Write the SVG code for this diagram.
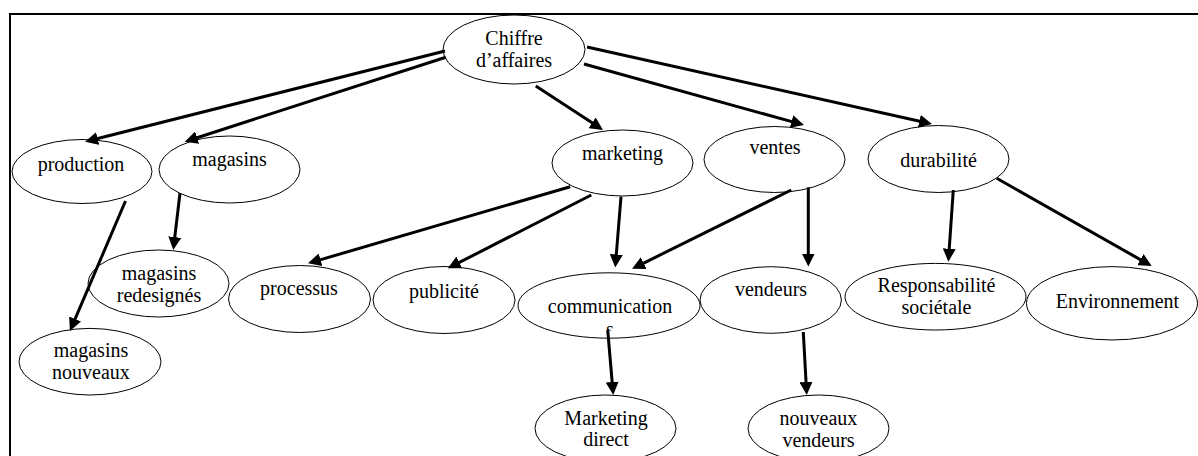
<svg xmlns="http://www.w3.org/2000/svg" width="1198" height="456" viewBox="0 0 1198 456">
<style>
  .node ellipse { fill: #ffffff; stroke: #000000; stroke-width: 1; }
  .node text { font-family: "Liberation Serif", "Times New Roman", serif; font-size: 20px; fill: #000000; text-anchor: middle; }
  .edge { stroke: #000000; stroke-width: 3; fill: none; marker-end: url(#arrow); }
  .frame { stroke: #000000; stroke-width: 2; fill: none; }
</style>
<defs>
  <marker id="arrow" markerUnits="userSpaceOnUse" markerWidth="13" markerHeight="13" refX="5" refY="6.5" orient="auto">
    <path d="M0,0 L13,6.5 L0,13 z" fill="#000000"/>
  </marker>
  <clipPath id="clipS">
    <rect x="590" y="300" width="40" height="30.5"/>
  </clipPath>
</defs>
<rect x="0" y="0" width="1198" height="456" fill="#ffffff"/>
<g id="frame">
  <line class="frame" x1="9" y1="14" x2="1198" y2="14"/>
  <line class="frame" x1="10" y1="13" x2="10" y2="456"/>
</g>
<g id="nodes">
  <g id="n-chiffre" class="node">
    <ellipse cx="514" cy="49.5" rx="71" ry="34.5"/>
    <text x="514" y="44.5">Chiffre</text>
    <text x="514" y="67">d’affaires</text>
  </g>
  <g id="n-production" class="node">
    <ellipse cx="82" cy="171.5" rx="70" ry="32"/>
    <text x="81" y="171">production</text>
  </g>
  <g id="n-magasins" class="node">
    <ellipse cx="229.5" cy="169.5" rx="70.5" ry="33.5"/>
    <text x="229.5" y="166">magasins</text>
  </g>
  <g id="n-marketing" class="node">
    <ellipse cx="622.5" cy="163" rx="70.5" ry="33"/>
    <text x="622.5" y="159.5">marketing</text>
  </g>
  <g id="n-ventes" class="node">
    <ellipse cx="774.5" cy="159.5" rx="70.5" ry="33"/>
    <text x="775" y="154">ventes</text>
  </g>
  <g id="n-durabilite" class="node">
    <ellipse cx="938.5" cy="159" rx="70.5" ry="33.5"/>
    <text x="938.5" y="166.5">durabilité</text>
  </g>
  <g id="n-redesignes" class="node">
    <ellipse cx="158.5" cy="283.5" rx="70.5" ry="33.5"/>
    <text x="159" y="279.5">magasins</text>
    <text x="159" y="301.5">redesignés</text>
  </g>
  <g id="n-processus" class="node">
    <ellipse cx="299.5" cy="299" rx="71" ry="33.5"/>
    <text x="299" y="295">processus</text>
  </g>
  <g id="n-publicite" class="node">
    <ellipse cx="444" cy="300" rx="71" ry="33.5"/>
    <text x="444" y="298">publicité</text>
  </g>
  <g id="n-communication" class="node">
    <ellipse cx="609" cy="305.5" rx="91" ry="32.7"/>
    <text x="610" y="313.3">communication</text>
    <text x="610" y="336" clip-path="url(#clipS)">s</text>
  </g>
  <g id="n-vendeurs" class="node">
    <ellipse cx="770.7" cy="300" rx="70.7" ry="33.3"/>
    <text x="771" y="296">vendeurs</text>
  </g>
  <g id="n-responsabilite" class="node">
    <ellipse cx="935.5" cy="296.7" rx="90.5" ry="33.3"/>
    <text x="936.5" y="292.3">Responsabilité</text>
    <text x="936.5" y="314.3">sociétale</text>
  </g>
  <g id="n-environnement" class="node">
    <ellipse cx="1112" cy="303.3" rx="85.5" ry="36.7"/>
    <text x="1117.5" y="308.3">Environnement</text>
  </g>
  <g id="n-nouveaux-magasins" class="node">
    <ellipse cx="90" cy="361.7" rx="71" ry="33.3"/>
    <text x="91" y="356.7">magasins</text>
    <text x="91" y="379.3">nouveaux</text>
  </g>
  <g id="n-marketing-direct" class="node">
    <ellipse cx="605.5" cy="428.5" rx="70.5" ry="33.5"/>
    <text x="606" y="425">Marketing</text>
    <text x="606" y="446">direct</text>
  </g>
  <g id="n-nouveaux-vendeurs" class="node">
    <ellipse cx="818.5" cy="428.5" rx="70.5" ry="33.5"/>
    <text x="818.5" y="425">nouveaux</text>
    <text x="818.5" y="446.7">vendeurs</text>
  </g>
</g>
<g id="connectors">
  <line class="edge" x1="445" y1="51" x2="92.8" y2="139.7"/>
  <line class="edge" x1="445.8" y1="57.3" x2="192.4" y2="139.2"/>
  <line class="edge" x1="535.8" y1="86" x2="596.3" y2="125.6"/>
  <line class="edge" x1="584" y1="64" x2="796.3" y2="122.9"/>
  <line class="edge" x1="587" y1="47" x2="924.2" y2="122.3"/>
  <line class="edge" x1="125.5" y1="201" x2="73.1" y2="323.6"/>
  <line class="edge" x1="180" y1="193" x2="174.2" y2="242.1"/>
  <line class="edge" x1="570.2" y1="186.7" x2="315.7" y2="261.1"/>
  <line class="edge" x1="591.3" y1="195" x2="454.9" y2="264.7"/>
  <line class="edge" x1="621" y1="196.7" x2="615.9" y2="259.5"/>
  <line class="edge" x1="791.2" y1="190" x2="639.2" y2="265.3"/>
  <line class="edge" x1="808.3" y1="187.3" x2="808.3" y2="258.5"/>
  <line class="edge" x1="953.3" y1="190" x2="948.9" y2="253.7"/>
  <line class="edge" x1="996.7" y1="178.3" x2="1144.7" y2="262.1"/>
  <line class="edge" x1="607.7" y1="330" x2="612.6" y2="387"/>
  <line class="edge" x1="803.3" y1="332" x2="806.3" y2="387"/>
</g>
</svg>
